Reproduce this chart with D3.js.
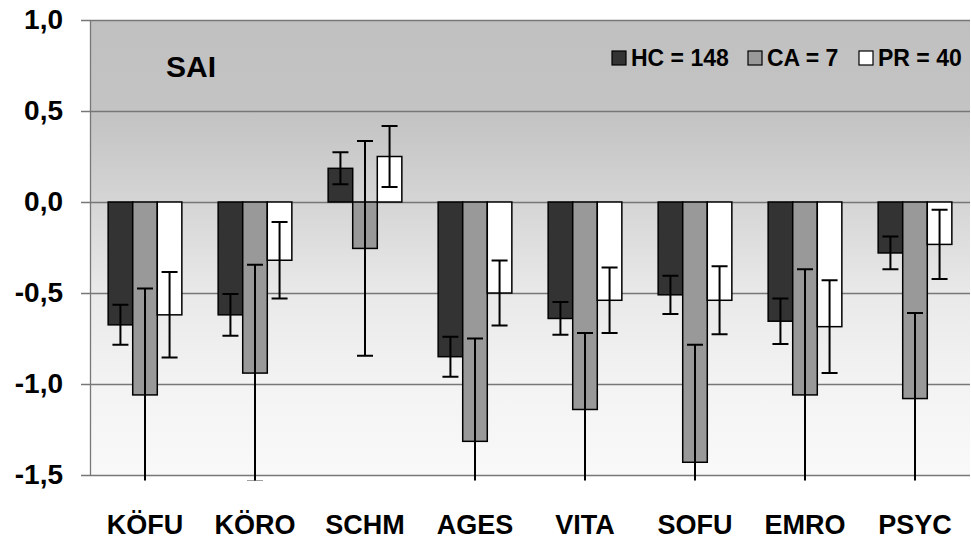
<!DOCTYPE html>
<html>
<head>
<meta charset="utf-8">
<script src="https://cdn.jsdelivr.net/npm/d3@7"></script>
<style>
    body { margin: 0; background: #ffffff; }
    text { font-family: "Liberation Sans", Arial, sans-serif; font-weight: bold; fill: #000; }
</style>
</head>
<body>
<div id="chart"></div>
<script>
var categories = ["KÖFU", "KÖRO", "SCHM", "AGES", "VITA", "SOFU", "EMRO", "PSYC"];
var seriesNames = ["HC = 148", "CA = 7", "PR = 40"];
var hcValues = [-0.675, -0.62, 0.185, -0.85, -0.64, -0.51, -0.655, -0.28];
var hcErrors = [0.11, 0.115, 0.088, 0.11, 0.09, 0.105, 0.125, 0.09];
var caValues = [-1.06, -0.94, -0.255, -1.315, -1.14, -1.43, -1.06, -1.08];
var caErrors = [0.585, 0.595, 0.59, 0.565, 0.42, 0.645, 0.69, 0.47];
var prValues = [-0.62, -0.32, 0.25, -0.5, -0.54, -0.54, -0.685, -0.233];
var prErrors = [0.235, 0.21, 0.167, 0.178, 0.18, 0.187, 0.255, 0.19];
var yTicks = [1.0, 0.5, 0.0, -0.5, -1.0, -1.5];
var title = "SAI";

var colors = ["#333333", "#999999", "#ffffff"];

var width = 971, height = 541;
var margin = { top: 20, right: 1, bottom: 66, left: 90 };

var svg = d3.select("#chart")
    .append("svg")
    .attr("width", width)
    .attr("height", height);

var x0 = d3.scaleBand()
    .domain(categories)
    .range([margin.left, width - margin.right])
    .paddingInner(0.33)
    .paddingOuter(0.165);

var x1 = d3.scaleBand()
    .domain([0, 1, 2])
    .range([0, x0.bandwidth()]);

var y = d3.scaleLinear()
    .domain([-1.5, 1.0])
    .range([height - margin.bottom, margin.top]);

// background gradient
var defs = svg.append("defs");
var grad = defs.append("linearGradient")
    .attr("id", "bg")
    .attr("x1", 0).attr("y1", 0).attr("x2", 0).attr("y2", 1);
grad.append("stop").attr("offset", "0%").attr("stop-color", "#c0c0c0");
grad.append("stop").attr("offset", "22%").attr("stop-color", "#c4c4c4");
grad.append("stop").attr("offset", "40%").attr("stop-color", "#d5d5d5");
grad.append("stop").attr("offset", "60%").attr("stop-color", "#e9e9e9");
grad.append("stop").attr("offset", "80%").attr("stop-color", "#f3f3f3");
grad.append("stop").attr("offset", "100%").attr("stop-color", "#f9f9f9");

defs.append("clipPath")
    .attr("id", "clip")
    .append("rect")
    .attr("x", margin.left)
    .attr("y", margin.top)
    .attr("width", width - margin.left - margin.right)
    .attr("height", y(-1.53) - margin.top);

svg.append("rect")
    .attr("x", margin.left)
    .attr("y", margin.top)
    .attr("width", width - margin.left - margin.right)
    .attr("height", y(-1.5) - margin.top)
    .attr("fill", "url(#bg)");

// gridlines
svg.append("g")
    .selectAll("line")
    .data(yTicks)
    .enter()
    .append("line")
    .attr("x1", margin.left - 9)
    .attr("x2", width - margin.right)
    .attr("y1", function (d) { return Math.round(y(d)) + 0.5; })
    .attr("y2", function (d) { return Math.round(y(d)) + 0.5; })
    .attr("stroke", "#777777")
    .attr("stroke-width", 1.3);

// Y axis
var yAxis = svg.append("g")
    .attr("transform", "translate(" + margin.left + ",0)")
    .call(d3.axisLeft(y)
        .tickValues(yTicks)
        .tickSize(0)
        .tickPadding(27)
        .tickFormat(function (d) { return d3.format(".1f")(d).replace(".", ",").replace("−", "-"); }));
yAxis.select(".domain").attr("stroke", "#777777").attr("stroke-width", 1.3);
yAxis.selectAll("text")
    .attr("font-size", 28)
    .attr("font-family", "Liberation Sans, Arial, sans-serif")
    .attr("font-weight", "bold")
    .attr("fill", "#000");

var seriesData = [
    { values: hcValues, errors: hcErrors },
    { values: caValues, errors: caErrors },
    { values: prValues, errors: prErrors }
];

var plot = svg.append("g").attr("clip-path", "url(#clip)");

var groups = plot.selectAll("g.group")
    .data(categories)
    .enter()
    .append("g")
    .attr("class", "group")
    .attr("transform", function (d) { return "translate(" + x0(d) + ",0)"; });

groups.selectAll("rect")
    .data(function (d, i) {
        return seriesData.map(function (s, k) {
            return { k: k, v: s.values[i], e: s.errors[i] };
        });
    })
    .enter()
    .append("rect")
    .attr("x", function (d) { return x1(d.k); })
    .attr("width", x1.bandwidth())
    .attr("y", function (d) { return y(Math.max(0, d.v)); })
    .attr("height", function (d) { return Math.abs(y(d.v) - y(0)); })
    .attr("fill", function (d) { return colors[d.k]; })
    .attr("stroke", "#000")
    .attr("stroke-width", 1.5);

// error bars
var errs = groups.selectAll("g.err")
    .data(function (d, i) {
        return seriesData.map(function (s, k) {
            return { k: k, v: s.values[i], e: s.errors[i] };
        });
    })
    .enter()
    .append("g")
    .attr("class", "err")
    .attr("transform", function (d) { return "translate(" + (x1(d.k) + x1.bandwidth() / 2) + ",0)"; });

errs.append("line")
    .attr("x1", 0).attr("x2", 0)
    .attr("y1", function (d) { return y(d.v + d.e); })
    .attr("y2", function (d) { return y(d.v - d.e); })
    .attr("stroke", "#000").attr("stroke-width", 2);
errs.append("line")
    .attr("x1", -8).attr("x2", 8)
    .attr("y1", function (d) { return y(d.v + d.e); })
    .attr("y2", function (d) { return y(d.v + d.e); })
    .attr("stroke", "#000").attr("stroke-width", 2);
errs.append("line")
    .attr("x1", -8).attr("x2", 8)
    .attr("y1", function (d) { return y(d.v - d.e); })
    .attr("y2", function (d) { return y(d.v - d.e); })
    .attr("stroke", "#000").attr("stroke-width", 2);

// X labels
svg.append("g")
    .selectAll("text")
    .data(categories)
    .enter()
    .append("text")
    .attr("x", function (d) { return x0(d) + x0.bandwidth() / 2; })
    .attr("y", 534)
    .attr("text-anchor", "middle")
    .attr("font-size", 27)
    .text(function (d) { return d; });

// title
svg.append("text")
    .attr("x", 166)
    .attr("y", 77)
    .attr("font-size", 30)
    .text(title);

// legend
var legendX = [612, 748, 859];
var legend = svg.append("g")
    .selectAll("g")
    .data(seriesNames)
    .enter()
    .append("g")
    .attr("transform", function (d, i) { return "translate(" + legendX[i] + ",51)"; });
legend.append("rect")
    .attr("width", 14).attr("height", 14)
    .attr("fill", function (d, i) { return colors[i]; })
    .attr("stroke", "#000").attr("stroke-width", 1.2);
legend.append("text")
    .attr("x", 19)
    .attr("y", 15)
    .attr("font-size", 23)
    .text(function (d) { return d; });
</script>
</body>
</html>
